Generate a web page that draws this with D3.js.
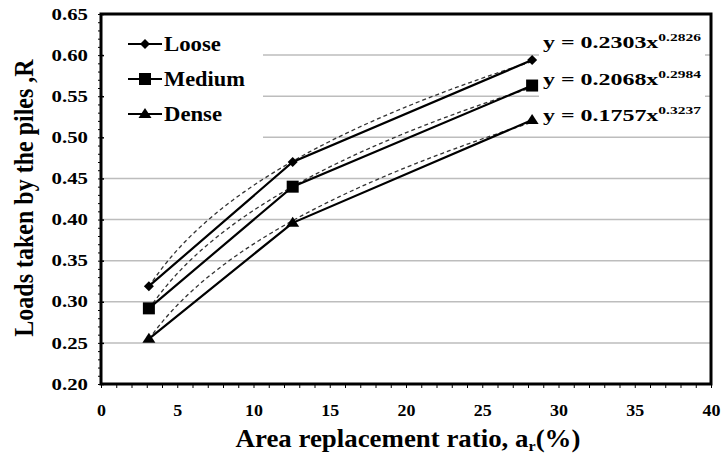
<!DOCTYPE html>
<html>
<head>
<meta charset="utf-8">
<script src="https://cdn.jsdelivr.net/npm/d3@7"></script>
</head>
<body style="margin:0">
<script>
const svgWidth = 725;
const svgHeight = 464;
const fontName = "Liberation Serif";

const margin = { top: 14, right: 14, bottom: 80, left: 101 };
const width = svgWidth - margin.left - margin.right;
const height = svgHeight - margin.top - margin.bottom;

// data
const ratios = [3.14, 12.57, 28.27];
const loose = [0.319, 0.470, 0.594];
const medium = [0.292, 0.440, 0.563];
const dense = [0.255, 0.396, 0.521];
const seriesNames = ["Loose", "Medium", "Dense"];
const fitA = [0.2303, 0.2068, 0.1757];
const fitB = [0.2826, 0.2984, 0.3237];
const fitLabels = ["0.2303", "0.2068", "0.1757"];
const fitExp = ["0.2826", "0.2984", "0.3237"];
const xTicks = [0, 5, 10, 15, 20, 25, 30, 35, 40];
const yTicks = [0.20, 0.25, 0.30, 0.35, 0.40, 0.45, 0.50, 0.55, 0.60, 0.65];

const series = [loose, medium, dense].map((vals, i) => ({
    name: seriesNames[i],
    a: fitA[i],
    b: fitB[i],
    points: vals.map((v, j) => ({ x: ratios[j], y: v }))
}));

const x = d3.scaleLinear().domain([0, 40]).range([0, width]);
const y = d3.scaleLinear().domain([0.20, 0.65]).range([height, 0]);

const svg = d3.select("body").append("svg")
    .attr("width", svgWidth)
    .attr("height", svgHeight)
    .attr("font-family", fontName)
    .attr("font-weight", "bold");

const g = svg.append("g")
    .attr("transform", `translate(${margin.left}, ${margin.top})`);

function label(sel) {
    return sel.attr("font-family", fontName)
        .attr("font-weight", "bold");
}

// the original picture is stretched sideways, so text gets widened to fit
function stretchTo(holder, text, target) {
    const w = text.node().getComputedTextLength();
    const k = target / w;
    holder.attr("transform", holder.attr("transform") + ` scale(${k}, 1)`);
}

// gridlines
g.selectAll(".grid")
    .data(yTicks.slice(1, -1))
    .enter()
    .append("line")
    .attr("x1", 0).attr("x2", width)
    .attr("y1", d => y(d)).attr("y2", d => y(d))
    .attr("stroke", "#bdbdbd")
    .attr("stroke-width", 1.5);

// legend box hides gridlines
g.append("rect")
    .attr("x", 2).attr("y", 12)
    .attr("width", 160).attr("height", 115)
    .attr("fill", "#fff");

// equation box
g.append("rect")
    .attr("x", 438).attr("y", 18)
    .attr("width", 166).attr("height", 96)
    .attr("fill", "#fff");

// trend curves (from the fitted equations shown)
const line = d3.line().x(d => x(d.x)).y(d => y(d.y));
series.forEach(s => {
    const xs = d3.range(ratios[0], ratios[2] + 0.01, 0.25);
    const pts = xs.map(v => ({ x: v, y: s.a * Math.pow(v, s.b) }));
    g.append("path")
        .attr("d", line(pts))
        .attr("fill", "none")
        .attr("stroke", "#333")
        .attr("stroke-width", 1.3)
        .attr("stroke-dasharray", "4,3");
});

// data lines
series.forEach(s => {
    g.append("path")
        .attr("d", line(s.points))
        .attr("fill", "none")
        .attr("stroke", "#000")
        .attr("stroke-width", 2.2);
});

function marker(sel, name) {
    if (name === "Loose") {
        sel.append("path").attr("d", "M0,-5L5,0L0,5L-5,0Z");
    } else if (name === "Medium") {
        sel.append("rect")
            .attr("x", -6).attr("y", -6).attr("width", 12).attr("height", 12);
    } else {
        sel.append("path").attr("d", "M0,-6L6.5,4L-6.5,4Z");
    }
}

series.forEach(s => {
    s.points.forEach(p => {
        const m = g.append("g")
            .attr("transform", `translate(${x(p.x)}, ${y(p.y)})`)
            .attr("fill", "#000");
        marker(m, s.name);
    });
});

// legend
const legendWidths = [57, 81, 58];
const legend = g.append("g").attr("transform", "translate(27, 30)");
seriesNames.forEach((name, i) => {
    const row = legend.append("g").attr("transform", `translate(0, ${i * 35})`);
    row.append("line")
        .attr("x1", 0).attr("x2", 34)
        .attr("stroke", "#000").attr("stroke-width", 2.2);
    const m = row.append("g").attr("transform", "translate(17, 0)").attr("fill", "#000");
    marker(m, name);
    const hold = row.append("g").attr("transform", "translate(36, 7)");
    const t = hold.append("text")
        .attr("font-size", 21)
        .call(label)
        .text(name);
    stretchTo(hold, t, legendWidths[i]);
});

// equations
fitLabels.forEach((lab, i) => {
    const hold = g.append("g")
        .attr("transform", `translate(442, ${[34, 71, 107][i]})`);
    const t = hold.append("text")
        .attr("font-size", 17)
        .call(label);
    t.append("tspan").text(`y = ${lab}x`);
    t.append("tspan")
        .attr("dy", -7)
        .attr("font-size", 11)
        .text(fitExp[i]);
    stretchTo(hold, t, 158);
});

// axes
const xAxis = g.append("g")
    .attr("transform", `translate(0, ${height})`)
    .call(d3.axisBottom(x).tickValues(xTicks).tickFormat(d3.format("d")).tickSize(0).tickPadding(21));
xAxis.select(".domain").remove();
xAxis.attr("font-family", fontName);
xAxis.selectAll("text")
    .attr("font-size", 16)
    .attr("transform", "scale(1.12, 1)")
    .call(label);

g.append("g")
    .attr("transform", `translate(0, ${height})`)
    .call(d3.axisBottom(x).ticks(40).tickFormat("").tickSize(4))
    .call(a => a.select(".domain").remove());

const yAxis = g.append("g")
    .call(d3.axisLeft(y).tickValues(yTicks).tickFormat(d3.format(".2f")).tickSize(5).tickPadding(6));
yAxis.select(".domain").remove();
yAxis.attr("font-family", fontName);
yAxis.selectAll("line").attr("stroke-width", 1.5).attr("x2", 3);
yAxis.selectAll("text")
    .attr("font-size", 16)
    .attr("x", 0)
    .attr("transform", "translate(-13, 0) scale(1.3, 1)")
    .call(label);

g.append("g")
    .call(d3.axisLeft(y).ticks(45).tickFormat("").tickSize(3))
    .call(a => a.select(".domain").remove());

// frame
g.append("rect")
    .attr("width", width).attr("height", height)
    .attr("fill", "none")
    .attr("stroke", "#000")
    .attr("stroke-width", 3);

// axis titles
const xHold = svg.append("g").attr("transform", "translate(408, 447)");
const xTitle = xHold.append("text")
    .attr("text-anchor", "middle")
    .attr("font-size", 25)
    .call(label)
    .text("Area replacement ratio, ")
    .call(t => {
        t.append("tspan").text("a");
        t.append("tspan").attr("dy", 4).attr("font-size", 15).text("r");
        t.append("tspan").attr("dy", -4).text("(%)");
    });
stretchTo(xHold, xTitle, 345);

svg.append("g")
    .attr("transform", "translate(33, 198) scale(1.15, 1)")
    .append("text")
    .attr("transform", "rotate(-90)")
    .attr("text-anchor", "middle")
    .attr("font-size", 24)
    .call(label)
    .text("Loads taken by the piles ,R");
</script>
</body>
</html>
